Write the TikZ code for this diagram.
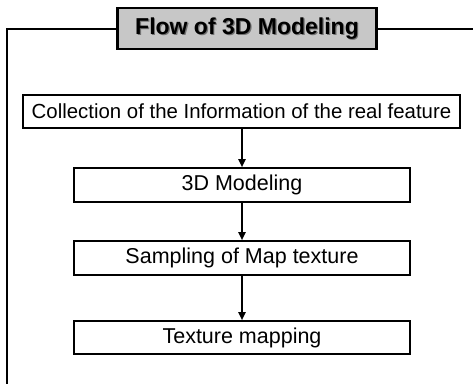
\documentclass[tikz,border=0pt]{standalone}
\usepackage{fontspec}
\setmainfont{Liberation Sans}
\usetikzlibrary{arrows.meta}
\begin{document}
\begin{tikzpicture}[x=1pt,y=-1pt,
  flowbox/.style={draw=black,line width=1.6pt,fill=white,inner sep=0pt,
    minimum width=336pt,minimum height=34pt,font=\fontsize{21.5}{24}\selectfont},
  flowarrow/.style={line width=1.8pt,-{Triangle[width=7pt,length=8pt]}},
  frameline/.style={line width=1.8pt},
  titlebox/.style={draw=black,line width=2.4pt,fill=black!22,inner sep=0pt,
    minimum width=259pt,minimum height=41pt,font=\fontsize{23}{26}\selectfont\bfseries}]
\useasboundingbox (0,0) rectangle (473,384);
% outer frame
\coordinate (fr) at (473,29);
\coordinate (fc) at (7,29);
\coordinate (fb) at (7,384);
\draw[frameline] (fr) -- (fc) -- (fb);
% title
\node[titlebox] (title) at (247,28.5) {};
\node[font=\fontsize{23}{26}\selectfont\bfseries,text=black!55] (titleshadow) at (248.2,29.7) {Flow of 3D Modeling};
\node[font=\fontsize{23}{26}\selectfont\bfseries] (titletext) at (247,28.5) {Flow of 3D Modeling};
% boxes
\node[flowbox,minimum width=437pt,minimum height=33pt,font=\fontsize{20.4}{23}\selectfont] (b1) at (241.5,111.5) {Collection of the Information of the real feature};
\node[flowbox] (b2) at (242,185) {3D Modeling};
\node[flowbox] (b3) at (242,258) {Sampling of Map texture};
\node[flowbox,minimum height=33pt] (b4) at (242,337.5) {Texture mapping};
% arrows
\draw[flowarrow] (b1.south -| b2.north) -- (b2.north);
\draw[flowarrow] (b2) -- (b3);
\draw[flowarrow] (b3) -- (b4);
\end{tikzpicture}
\end{document}
